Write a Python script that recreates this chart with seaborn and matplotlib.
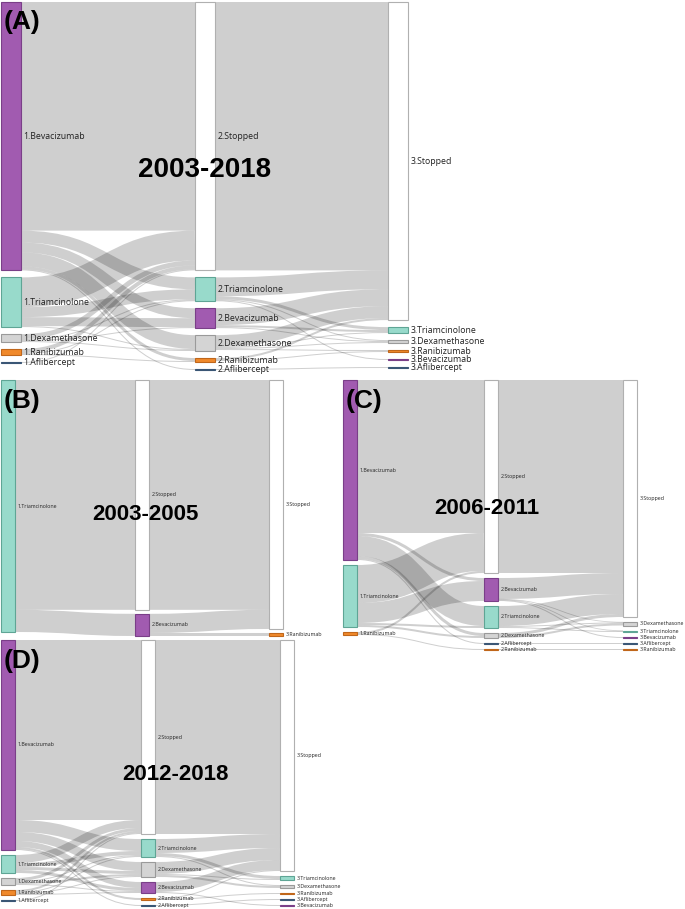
import numpy as np
import matplotlib
matplotlib.use("Agg")
import matplotlib.pyplot as plt
import seaborn as sns
from matplotlib.patches import Rectangle, PathPatch
from matplotlib.path import Path

# ---------------- DATA ----------------
# Panel A 2003-2018
A_col1 = ["Bevacizumab", "Triamcinolone", "Dexamethasone", "Ranibizumab", "Aflibercept"]
A_col2 = ["Stopped", "Triamcinolone", "Bevacizumab", "Dexamethasone", "Ranibizumab", "Aflibercept"]
A_col3 = ["Stopped", "Triamcinolone", "Dexamethasone", "Ranibizumab", "Bevacizumab", "Aflibercept"]
A_flow12 = [("Bevacizumab", "Stopped", 230), ("Bevacizumab", "Triamcinolone", 12), ("Bevacizumab", "Bevacizumab", 10),
            ("Bevacizumab", "Dexamethasone", 14), ("Bevacizumab", "Ranibizumab", 3), ("Bevacizumab", "Aflibercept", 1),
            ("Triamcinolone", "Stopped", 30), ("Triamcinolone", "Triamcinolone", 10), ("Triamcinolone", "Bevacizumab", 9),
            ("Triamcinolone", "Dexamethasone", 1), ("Dexamethasone", "Stopped", 5), ("Dexamethasone", "Triamcinolone", 1),
            ("Dexamethasone", "Bevacizumab", 1), ("Dexamethasone", "Dexamethasone", 1), ("Ranibizumab", "Stopped", 4),
            ("Ranibizumab", "Triamcinolone", 1), ("Ranibizumab", "Ranibizumab", 1), ("Aflibercept", "Stopped", 1)]
A_flow23 = [("Stopped", "Stopped", 270), ("Triamcinolone", "Stopped", 19), ("Triamcinolone", "Triamcinolone", 3),
            ("Triamcinolone", "Dexamethasone", 1), ("Triamcinolone", "Bevacizumab", 1), ("Bevacizumab", "Stopped", 17),
            ("Bevacizumab", "Triamcinolone", 2), ("Bevacizumab", "Dexamethasone", 1), ("Dexamethasone", "Stopped", 12),
            ("Dexamethasone", "Triamcinolone", 1), ("Dexamethasone", "Dexamethasone", 1), ("Dexamethasone", "Ranibizumab", 1),
            ("Ranibizumab", "Stopped", 2), ("Ranibizumab", "Ranibizumab", 1), ("Aflibercept", "Aflibercept", 1)]

# Panel B 2003-2005
B_col1 = ["Triamcinolone"]
B_col2 = ["Stopped", "Bevacizumab"]
B_col3 = ["Stopped", "Ranibizumab"]
B_flow12 = [("Triamcinolone", "Stopped", 228), ("Triamcinolone", "Bevacizumab", 22)]
B_flow23 = [("Stopped", "Stopped", 228), ("Bevacizumab", "Stopped", 19), ("Bevacizumab", "Ranibizumab", 3)]

# Panel C 2006-2011
C_col1 = ["Bevacizumab", "Triamcinolone", "Ranibizumab"]
C_col2 = ["Stopped", "Bevacizumab", "Triamcinolone", "Dexamethasone", "Aflibercept", "Ranibizumab"]
C_col3 = ["Stopped", "Dexamethasone", "Triamcinolone", "Bevacizumab", "Aflibercept", "Ranibizumab"]
C_flow12 = [("Bevacizumab", "Stopped", 153), ("Bevacizumab", "Bevacizumab", 3), ("Bevacizumab", "Triamcinolone", 20),
            ("Bevacizumab", "Dexamethasone", 3), ("Bevacizumab", "Aflibercept", 1), ("Triamcinolone", "Stopped", 38),
            ("Triamcinolone", "Bevacizumab", 20), ("Triamcinolone", "Triamcinolone", 2), ("Triamcinolone", "Dexamethasone", 2),
            ("Ranibizumab", "Stopped", 2), ("Ranibizumab", "Ranibizumab", 1)]
C_flow23 = [("Stopped", "Stopped", 193), ("Bevacizumab", "Stopped", 21), ("Bevacizumab", "Bevacizumab", 1),
            ("Bevacizumab", "Triamcinolone", 0.5), ("Bevacizumab", "Dexamethasone", 0.5), ("Triamcinolone", "Stopped", 20),
            ("Triamcinolone", "Triamcinolone", 1), ("Triamcinolone", "Dexamethasone", 1), ("Dexamethasone", "Stopped", 3),
            ("Dexamethasone", "Dexamethasone", 2), ("Aflibercept", "Aflibercept", 1), ("Ranibizumab", "Ranibizumab", 1)]

# Panel D 2012-2018
D_col1 = ["Bevacizumab", "Triamcinolone", "Dexamethasone", "Ranibizumab", "Aflibercept"]
D_col2 = ["Stopped", "Triamcinolone", "Dexamethasone", "Bevacizumab", "Ranibizumab", "Aflibercept"]
D_col3 = ["Stopped", "Triamcinolone", "Dexamethasone", "Ranibizumab", "Aflibercept", "Bevacizumab"]
D_flow12 = [("Bevacizumab", "Stopped", 180), ("Bevacizumab", "Triamcinolone", 12), ("Bevacizumab", "Dexamethasone", 9),
            ("Bevacizumab", "Bevacizumab", 6), ("Bevacizumab", "Ranibizumab", 2), ("Bevacizumab", "Aflibercept", 1),
            ("Triamcinolone", "Stopped", 8), ("Triamcinolone", "Triamcinolone", 4), ("Triamcinolone", "Dexamethasone", 3),
            ("Triamcinolone", "Bevacizumab", 3), ("Dexamethasone", "Stopped", 3), ("Dexamethasone", "Triamcinolone", 1),
            ("Dexamethasone", "Dexamethasone", 2), ("Dexamethasone", "Bevacizumab", 1), ("Ranibizumab", "Stopped", 2),
            ("Ranibizumab", "Triamcinolone", 1), ("Ranibizumab", "Dexamethasone", 1), ("Ranibizumab", "Bevacizumab", 1),
            ("Aflibercept", "Stopped", 1)]
D_flow23 = [("Stopped", "Stopped", 194), ("Triamcinolone", "Stopped", 14), ("Triamcinolone", "Triamcinolone", 3),
            ("Triamcinolone", "Dexamethasone", 1), ("Dexamethasone", "Stopped", 12), ("Dexamethasone", "Triamcinolone", 1),
            ("Dexamethasone", "Dexamethasone", 2), ("Bevacizumab", "Stopped", 10), ("Bevacizumab", "Bevacizumab", 1),
            ("Ranibizumab", "Stopped", 1), ("Ranibizumab", "Ranibizumab", 1), ("Aflibercept", "Aflibercept", 1)]

PANEL_TITLES = ["2003-2018", "2003-2005", "2006-2011", "2012-2018"]
PANEL_LETTERS = ["(A)", "(B)", "(C)", "(D)"]

# ---------------- STYLE ----------------
sns.set_theme(style="white")
FILL = {"Bevacizumab": "#a15bb0", "Triamcinolone": "#98dacb", "Dexamethasone": "#d4d4d4",
        "Ranibizumab": "#f0892b", "Aflibercept": "#4d6d8d", "Stopped": "#ffffff"}
EDGE = {"Bevacizumab": "#7a3f88", "Triamcinolone": "#5fa595", "Dexamethasone": "#9a9a9a",
        "Ranibizumab": "#c0661a", "Aflibercept": "#3a5675", "Stopped": "#b0b0b0"}
LABEL_FONT = ["Open Sans", "DejaVu Sans"]
TITLE_FONT = ["Liberation Sans", "DejaVu Sans"]

# geometry per panel (figure pixels): column x, node width, top, bottom, padding, label size, title pos/size, letter pos
GEOM = [
    dict(xs=[1, 195, 388], w=20, top=2, bottom=370, pad=7, fs=6.3, title=(205, 170), tfs=20, letter=(4, 22)),
    dict(xs=[1, 135, 269], w=14, top=380, bottom=636, pad=4, fs=3.8, title=(145, 515), tfs=16, letter=(4, 401)),
    dict(xs=[343, 484, 623], w=14, top=380, bottom=650, pad=5, fs=3.8, title=(487, 508), tfs=16, letter=(346, 401)),
    dict(xs=[1, 141, 280], w=14, top=640, bottom=906, pad=5, fs=3.8, title=(175, 775), tfs=16, letter=(4, 661)),
]

PANELS = [([A_col1, A_col2, A_col3], [A_flow12, A_flow23]),
          ([B_col1, B_col2, B_col3], [B_flow12, B_flow23]),
          ([C_col1, C_col2, C_col3], [C_flow12, C_flow23]),
          ([D_col1, D_col2, D_col3], [D_flow12, D_flow23])]

fig = plt.figure(figsize=(6.85, 9.09), dpi=100)
ax = fig.add_axes([0, 0, 1, 1])
ax.set_xlim(0, 685)
ax.set_ylim(909, 0)
ax.axis("off")
PX = 72 / 100.0  # points per pixel


def draw_panel(cols, flows, g, title, letter):
    # node values
    val = {}
    for ci, col in enumerate(cols):
        for n in col:
            vin = sum(v for s, t, v in (flows[ci - 1] if ci > 0 else []) if t == n)
            vout = sum(v for s, t, v in (flows[ci] if ci < len(flows) else []) if s == n)
            val[(ci, n)] = max(vin, vout)
    H = g["bottom"] - g["top"]
    k = min((H - (len(col) - 1) * g["pad"]) / sum(val[(ci, n)] for n in col) for ci, col in enumerate(cols))
    y0 = {}
    for ci, col in enumerate(cols):
        y = g["top"]
        for n in col:
            y0[(ci, n)] = y
            y += val[(ci, n)] * k + g["pad"]
    # links
    for si, fl in enumerate(flows):
        out_off = {n: y0[(si, n)] for n in cols[si]}
        in_off = {n: y0[(si + 1, n)] for n in cols[si + 1]}
        ys = {}
        for s in cols[si]:
            for f in sorted([f for f in fl if f[0] == s], key=lambda f: y0[(si + 1, f[1])]):
                ys[f] = out_off[s]
                out_off[s] += f[2] * k
        yt = {}
        for t in cols[si + 1]:
            for f in sorted([f for f in fl if f[1] == t], key=lambda f: y0[(si, f[0])]):
                yt[f] = in_off[t]
                in_off[t] += f[2] * k
        xa = g["xs"][si] + g["w"]
        xb = g["xs"][si + 1]
        xm = (xa + xb) / 2
        for f in fl:
            th = f[2] * k
            ya = ys[f] + th / 2
            yb = yt[f] + th / 2
            p = Path([(xa, ya), (xm, ya), (xm, yb), (xb, yb)],
                     [Path.MOVETO, Path.CURVE4, Path.CURVE4, Path.CURVE4])
            patch = PathPatch(p, fill=False, edgecolor=(0, 0, 0, 0.19),
                              lw=max(th, 0.8) * PX, capstyle="butt", zorder=1)
            ax.add_patch(patch)
    # nodes + labels
    for ci, col in enumerate(cols):
        for n in col:
            h = max(val[(ci, n)] * k, 1.0)
            x = g["xs"][ci]
            ax.add_patch(Rectangle((x, y0[(ci, n)]), g["w"], h, facecolor=FILL[n],
                                   edgecolor=EDGE[n], lw=0.8, zorder=2))
            ax.text(x + g["w"] + 2.5, y0[(ci, n)] + h / 2, f"{ci + 1}.{n}", va="center", ha="left",
                    fontsize=g["fs"], family=LABEL_FONT, color="#222222", zorder=3)
    ax.text(g["title"][0], g["title"][1], title, ha="center", va="center", fontsize=g["tfs"],
            fontweight="bold", family=TITLE_FONT, color="black", zorder=4)
    ax.text(g["letter"][0], g["letter"][1], letter, ha="left", va="center", fontsize=19,
            fontweight="bold", family=TITLE_FONT, color="black", zorder=4)


for (cols, flows), g, t, l in zip(PANELS, GEOM, PANEL_TITLES, PANEL_LETTERS):
    draw_panel(cols, flows, g, t, l)

fig.savefig("out.png", dpi=100)
